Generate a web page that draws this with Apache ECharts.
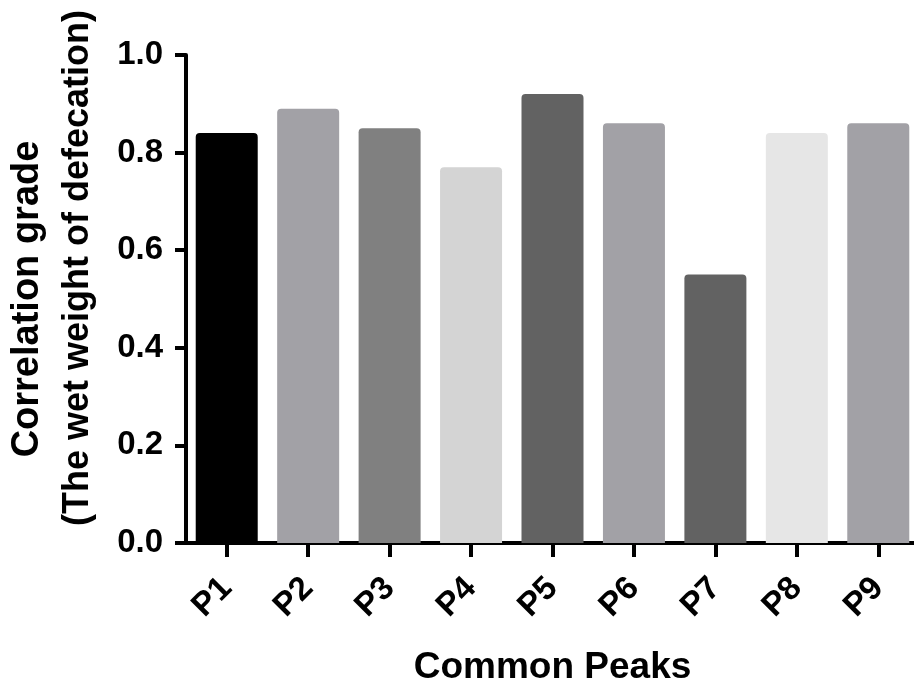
<!DOCTYPE html>
<html><head><meta charset="utf-8">
<script src="https://cdn.jsdelivr.net/npm/echarts@6/dist/echarts.min.js"></script>
<style>html,body{margin:0;padding:0;background:#fff}#c{width:914px;height:686px}</style>
</head><body><div id="c"></div>
<script>
const categories = ['P1','P2','P3','P4','P5','P6','P7','P8','P9'];
const values = [0.84, 0.89, 0.85, 0.77, 0.92, 0.86, 0.55, 0.84, 0.86];
const colors = ['#000000','#a2a1a6','#808080','#d4d4d4','#626262','#a2a1a6','#626262','#e6e6e6','#a2a1a6'];
const yTicks = [0, 0.2, 0.4, 0.6, 0.8, 1.0];
const yName1 = 'Correlation grade';
const yName2 = '(The wet weight of defecation)';
const xName = 'Common Peaks';

const chart = echarts.init(document.getElementById('c'));
const font = 'Liberation Sans, Arial, sans-serif';
chart.setOption({
  animation: false,
  grid: {left: 186, right: -5, top: 55, bottom: 143, containLabel: false, outerBoundsMode: 'none'},
  xAxis: {
    type: 'category', data: categories,
    axisLine: {show: true, lineStyle: {color: '#000', width: 4}},
    axisTick: {show: true, alignWithLabel: true, length: 14, lineStyle: {width: 4, color: '#000'}},
    axisLabel: {rotate: 45, color: '#000', fontSize: 33, fontWeight: 'bold', fontFamily: font, margin: 40},
    name: xName, nameLocation: 'middle', nameGap: 106,
    nameTextStyle: {color: '#000', fontSize: 37, fontWeight: 'bold', fontFamily: font}
  },
  yAxis: {
    type: 'value', min: 0, max: 1, interval: 0.2,
    axisLine: {show: true, lineStyle: {color: '#000', width: 4}},
    axisTick: {show: true, length: 11, lineStyle: {width: 4, color: '#000'}},
    splitLine: {show: false},
    axisLabel: {color: '#000', fontSize: 33, fontWeight: 'bold', fontFamily: font, margin: 23,
      formatter: v => yTicks.includes(Math.round(v*10)/10) ? v.toFixed(1) : ''},
    name: '{a|' + yName1 + '}\n{b|' + yName2 + '}', nameLocation: 'middle', nameGap: 83,
    nameTextStyle: {
      color: '#000', fontSize: 36, fontWeight: 'bold', fontFamily: font, lineHeight: 50,
      rich: {
        a: {color: '#000', fontSize: 38, fontWeight: 'bold', fontFamily: font, lineHeight: 50},
        b: {color: '#000', fontSize: 36, fontWeight: 'bold', fontFamily: font, lineHeight: 50, padding: [0, 0, 0, 62]}
      }
    }
  },
  series: [{
    type: 'bar', barWidth: 62,
    data: values.map((v, i) => ({value: v, itemStyle: {color: colors[i], borderRadius: [4,4,0,0]}}))
  }]
});
</script></body></html>
